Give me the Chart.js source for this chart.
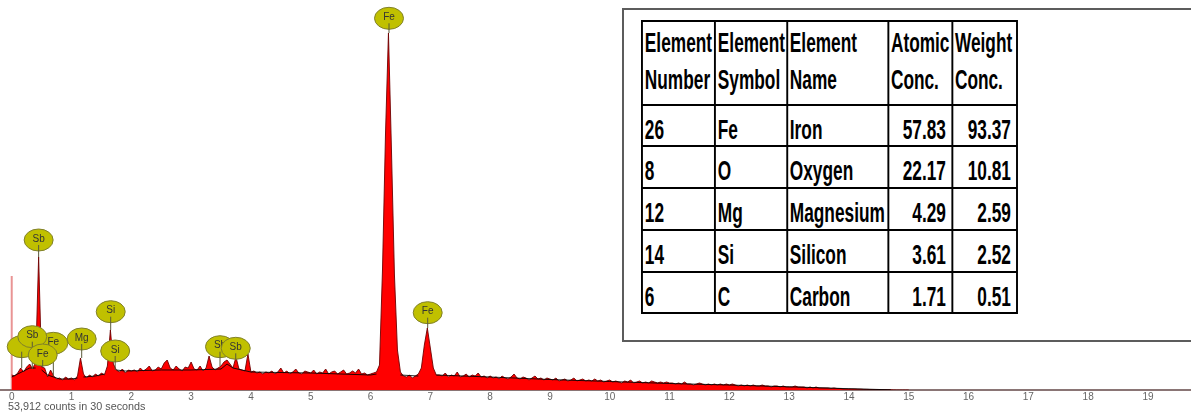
<!DOCTYPE html>
<html>
<head>
<meta charset="utf-8">
<script src="https://cdn.jsdelivr.net/npm/chart.js@4.4.1/dist/chart.umd.min.js"></script>
<style>
  body { margin: 0; background: #fff; }
  #wrap { position: relative; width: 1191px; height: 417px; overflow: hidden; }
  #spectrum { position: absolute; left: 0; top: 0; }
  #counts { position: absolute; left: 8px; top: 400px; font: 10.8px "Liberation Sans", Arial, sans-serif;
            line-height: 12px; color: #555; white-space: nowrap; }
  #box { position: absolute; left: 622px; top: 8px; width: 620px; height: 334px; box-sizing: border-box;
         border: 2px solid #5c5c5c; background: #fff; }
  #tbl { position: absolute; left: 641px; top: 20px; transform: scaleX(0.64); transform-origin: 0 0;
         display: grid; background: #000; padding: 2px 3px; column-gap: 3px; row-gap: 2px;
         grid-template-columns: 111px 109.5px 155px 97px 98.5px;
         grid-template-rows: 82px 39px 40px 40px 40px 39px;
         font: bold 27px "Liberation Sans", Arial, sans-serif; color: #000; }
  #tbl div { background: #fff; white-space: nowrap; padding: 3.5px 0 0 3px; line-height: 40px; }
  #tbl div.h { line-height: 37px; padding-top: 3px; }
  #tbl div.n { text-align: right; padding: 3.5px 8px 0 0; }
</style>
</head>
<body>
<div id="wrap">
  <canvas id="spectrum" width="1191" height="417"></canvas>
  <div id="counts">53,912 counts in 30 seconds</div>
  <div id="box"></div>
  <div id="tbl"></div>
</div>
<script>
// EDS spectrum, one value per 0.05 keV channel (starting at 0 keV)
const channelWidth = 0.05;
const spectrumCounts = [
  150,140,170,220,180,230,260,210,280,1330,230,220,130,200,140,110,120,100,130,110,
  120,100,140,320,160,120,150,130,160,140,170,150,240,600,260,200,180,210,170,200,
  190,200,180,220,190,210,240,190,200,230,210,270,300,220,200,240,210,190,230,220,
  280,210,200,240,190,220,340,230,200,220,240,280,300,260,220,330,210,200,190,360,
  180,190,170,180,160,180,170,190,160,180,220,170,190,160,180,210,170,160,190,180,
  170,200,160,180,170,210,160,180,190,160,180,200,160,170,190,170,210,160,170,150,
  160,170,180,250,1200,2550,3570,2400,1150,400,180,140,130,150,120,140,160,220,450,620,
  420,220,150,150,140,170,130,150,140,180,130,140,160,130,150,140,170,130,140,120,
  140,120,130,110,140,120,110,130,160,120,110,130,120,100,120,140,110,120,100,120,
  110,100,120,90,100,110,90,100,120,90,100,110,90,100,90,110,90,100,80,90,
  100,80,90,80,70,90,80,100,70,80,90,70,80,70,90,80,70,80,70,80,
  70,70,60,70,60,80,60,60,50,60,70,60,50,60,50,60,50,60,50,60,
  50,60,50,40,50,40,50,40,50,40,40,50,40,40,30,40,40,30,40,30,
  30,30,40,30,30,30,20,30,20,30,20,20,20,20,15,20,15,15,10,10,
  10,10,10,8,8,6,6,5,5,4,4,3,3,2,2,1,0,0,0,0,
  0
];

// smoothed background line (null = broken at peaks)
const fitKeV    = [0, 0.1, 0.2, 0.3, 0.4, 0.45, 0.5, 0.6, 0.7, 0.8, 1.0, 1.1, 1.15, 1.2, 1.4, 1.55, 1.65, 1.75, 1.9,
                   2.5, 3.0, 3.5, 3.6, 3.7, 4.0, 5.0, 6.0, 6.1, 6.3, 6.5, 6.8, 6.95, 7.1, 8, 9, 10, 11, 12, 13, 14, 14.7];
const fitCounts = [130, 160, 190, 220, 220, null, 200, 150, 130, 110, 110, 120, null, 130, 140, 160, null, 200, 190,
                   200, 200, 210, 260, 220, 180, 170, 150, 160, null, 150, 140, null, 150, 130, 105, 85, 65, 50, 32, 13, 2];

// noise peak at 0 keV
const zeroPeakKeV = [0, 0];
const zeroPeakCounts = [0, 1140];

// peak markers (first one sits under its neighbours, its text is not readable)
const labelText   = ['', 'Fe', 'Sb', 'Fe', 'Sb', 'Mg', 'Si', 'Si', 'Sb', 'Sb', 'Fe', 'Fe'];
const labelKeV    = [0.167, 0.696, 0.344, 0.518, 0.45, 1.17, 1.655, 1.73, 3.483, 3.746, 6.309, 6.956];
const labelCounts = [433, 467, 533, 350, 1500, 510, 783, 390, 433, 417, 3717, 773];

// x axis range
const xMin = -0.196, xMax = 19.72;
const yMax = 3900;

// quantification table
const tableHeaders   = ['Element<br>Number', 'Element<br>Symbol', 'Element<br>Name', 'Atomic<br>Conc.', 'Weight<br>Conc.'];
const elementNumbers = [26, 8, 12, 14, 6];
const elementSymbols = ['Fe', 'O', 'Mg', 'Si', 'C'];
const elementNames   = ['Iron', 'Oxygen', 'Magnesium', 'Silicon', 'Carbon'];
const atomicConc     = ['57.83', '22.17', '4.29', '3.61', '1.71'];
const weightConc     = ['93.37', '10.81', '2.59', '2.52', '0.51'];

// build table
let html = tableHeaders.map(h => '<div class="h">' + h + '</div>').join('');
elementNumbers.forEach((n, i) => {
    html += '<div>' + n + '</div><div>' + elementSymbols[i] + '</div><div>' + elementNames[i] + '</div>' +
            '<div class="n">' + atomicConc[i] + '</div><div class="n">' + weightConc[i] + '</div>';
});
document.getElementById('tbl').innerHTML = html;

const spectrumPoints = spectrumCounts.map((c, i) => ({ x: i * channelWidth, y: c }));
const fitPoints = fitKeV.map((k, i) => ({ x: k, y: fitCounts[i] }));
const zeroPeakPoints = zeroPeakKeV.map((k, i) => ({ x: k, y: zeroPeakCounts[i] }));

const peakLabels = {
    id: 'peakLabels',
    afterDatasetsDraw(chart) {
        const { ctx, scales: { x, y } } = chart;
        ctx.save();
        ctx.font = '10px "Liberation Sans", Arial, sans-serif';
        ctx.textAlign = 'center';
        ctx.textBaseline = 'middle';
        labelText.forEach((t, i) => {
            const cx = x.getPixelForValue(labelKeV[i]);
            const cy = y.getPixelForValue(labelCounts[i]);
            const peak = y.getPixelForValue(spectrumCounts[Math.round(labelKeV[i] / channelWidth)]);
            ctx.beginPath();
            ctx.ellipse(cx, cy, 14.5, 11, 0, 0, Math.PI * 2);
            ctx.fillStyle = '#c0c000';
            ctx.fill();
            ctx.strokeStyle = '#80802a';
            ctx.lineWidth = 1;
            ctx.stroke();
            ctx.fillStyle = '#333';
            ctx.fillText(t, cx, cy - 1);
            ctx.beginPath();
            ctx.moveTo(cx, cy + 5);
            ctx.lineTo(cx, Math.max(peak, cy + 11));
            ctx.strokeStyle = '#5a5a3a';
            ctx.stroke();
        });
        ctx.restore();
    }
};

new Chart(document.getElementById('spectrum'), {
    type: 'line',
    data: {
        datasets: [
            {
                label: 'Fit',
                data: fitPoints,
                borderColor: 'rgba(0,0,0,0.85)',
                borderWidth: 1,
                fill: false,
                pointRadius: 0,
                tension: 0,
                order: 1
            },
            {
                label: 'Spectrum',
                data: spectrumPoints,
                borderColor: 'rgba(110,0,0,0.9)',
                borderWidth: 1,
                backgroundColor: '#ff0000',
                fill: 'origin',
                pointRadius: 0,
                tension: 0,
                order: 2
            },
            {
                label: 'Zero peak',
                data: zeroPeakPoints,
                borderColor: 'rgba(215,60,60,0.55)',
                borderWidth: 2,
                fill: false,
                pointRadius: 0,
                order: 3
            }
        ]
    },
    options: {
        responsive: false,
        animation: false,
        devicePixelRatio: 1,
        layout: { padding: 0 },
        plugins: { legend: { display: false }, tooltip: { enabled: false } },
        scales: {
            x: {
                type: 'linear',
                min: xMin,
                max: xMax,
                grid: { display: false, drawTicks: false },
                border: { display: true, color: '#8a7575', width: 2 },
                ticks: {
                    stepSize: 1,
                    includeBounds: false,
                    padding: 1,
                    color: '#666',
                    autoSkip: false,
                    maxRotation: 0,
                    font: { family: 'Liberation Sans', size: 10 }
                },
                afterFit: (scale) => { scale.height = 27; }
            },
            y: { display: false, min: 0, max: yMax }
        }
    },
    plugins: [peakLabels]
});
</script>
</body>
</html>
